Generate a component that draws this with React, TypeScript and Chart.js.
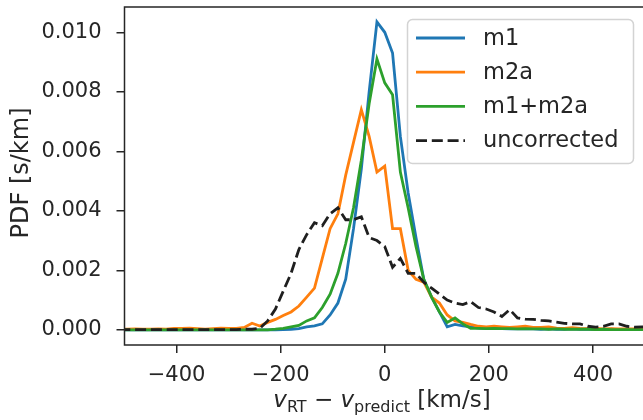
import React, { useEffect, useRef } from "react";
import { Chart, registerables } from "chart.js";

Chart.register(...registerables);

// bin centres [km/s]
const velocities = [
  -510, -495, -480, -465, -450, -435, -420, -405, -390, -375,
  -360, -345, -330, -315, -300, -285, -270, -255, -240, -225,
  -210, -195, -180, -165, -150, -135, -120, -105, -90, -75,
  -60, -45, -30, -15, 0, 15, 30, 45, 60, 75,
  90, 105, 120, 135, 150, 165, 180, 195, 210, 225,
  240, 255, 270, 285, 300, 315, 330, 345, 360, 375,
  390, 405, 420, 435, 450, 465, 480, 495, 510,
];

const m1 = [
  0, 0, 0, 0, 0, 0, 0, 0, 0, 0,
  0, 0, 0, 0, 0, 0, 0, 0, 0, 0,
  0,
  0.00001, 0.00002, 0.00004, 0.0001, 0.00013, 0.0002, 0.0005, 0.0009, 0.0017, 0.0034,
  0.0054, 0.008, 0.01035, 0.01, 0.0093, 0.0065, 0.0046, 0.0031, 0.0017, 0.0011,
  0.0006, 0.0001, 0.00018, 0.00013, 0.0001, 0.00006, 0.00005, 0.00004, 0.00004, 0.00003,
  0.00004, 0.00003, 0.00003, 0.00002, 0.00003, 0.00002, 0.00002, 0.00003, 0.00002, 0.00002,
  0.00002, 0.00001, 0.00002, 0.00001, 0.00001, 0.00001, 0.00001, 0.00001,
];

const m2a = [
  0.00002, 0.00002, 0.00003, 0.00002, 0.00002, 0.00003, 0.00002, 0.00005, 0.00005, 0.00006,
  0.00004, 0.00002, 0.00004, 0.00006, 0.00005, 0.00005, 0.00008, 0.00022, 0.00013, 0.00025,
  0.00035, 0.00048, 0.0006, 0.0008, 0.0011, 0.0014, 0.0024, 0.0034, 0.0039, 0.0052,
  0.0063, 0.0074, 0.0065, 0.0053, 0.0055, 0.0034, 0.0034, 0.002, 0.0017, 0.0016,
  0.0011, 0.0009, 0.0005, 0.0003, 0.00025, 0.00018, 0.00012, 0.0001, 0.00012, 0.0001,
  0.00008, 0.0001, 0.00012, 0.00008, 0.00008, 0.0001, 0.00006, 0.00005, 0.00007, 0.00005,
  0.00004, 0.00005, 0.00003, 0.00004, 0.00003, 0.00003, 0.00003, 0.00002, 0.00002,
];

const m1m2a = [
  0, 0, 0, 0, 0, 0, 0, 0, 0, 0,
  0, 0, 0, 0, 0, 0, 0, 0, 0, 0,
  0.00002, 0.00005, 0.0001, 0.00015, 0.0003, 0.0004, 0.00075, 0.0012, 0.0019, 0.0029,
  0.0041, 0.0057, 0.0076, 0.0091, 0.0083, 0.0079, 0.0053, 0.0041, 0.0028, 0.0017,
  0.0011, 0.0006, 0.00025, 0.0004, 0.0002, 0.00005, 0.00005, 0.00004, 0.00005, 0.00004,
  0.00004, 0.00003, 0.00004, 0.00003, 0.00003, 0.00002, 0.00003, 0.00002, 0.00002, 0.00002,
  0.00002, 0.00001, 0.00002, 0.00001, 0.00001, 0.00001, 0.00001, 0.00001, 0.00001,
];

const uncorrected = [
  0.00001, 0.00001, 0.00001, 0.00001, 0.00001, 0.00001, 0.00001, 0.00001, 0.00001, 0.00001,
  0.00001, 0.00001, 0.00001, 0.00001, 0.00001, 0.00001, 0.00002, 0.00002, 0.00005, 0.0003,
  0.0007, 0.0013, 0.0019, 0.0027, 0.0032, 0.0036, 0.0035, 0.0039, 0.0041, 0.0037,
  0.0037, 0.0038, 0.0031, 0.003, 0.0028, 0.0021, 0.0024, 0.0019, 0.0019, 0.0016,
  0.0014, 0.0012, 0.001, 0.0009, 0.00085, 0.00095, 0.00075, 0.0007, 0.0006, 0.00045,
  0.00068, 0.0004, 0.00036, 0.00035, 0.00032, 0.0003, 0.00026, 0.00022, 0.0002, 0.0002,
  0.00012, 0.00009, 0.00012, 0.0002, 0.0002, 0.00012, 0.00009, 0.0001, 0.0001,
];

const seriesLabels = ["m1", "m2a", "m1+m2a", "uncorrected"];
const seriesColors = ["#1f77b4", "#ff7f0e", "#2ca02c", "#1f1f1f"];
const xTicks = [-400, -200, 0, 200, 400];
const yTicks = [0, 0.002, 0.004, 0.006, 0.008, 0.01];

const FONT = "'DejaVu Sans', 'Liberation Sans', sans-serif";
const TEXT = "#262626";
const DASH = [11, 4.8];

const framePlugin = {
  id: "frameAndText",
  afterDatasetsDraw(chart: any) {
    const ctx = chart.ctx as CanvasRenderingContext2D;
    const a = chart.chartArea;
    ctx.save();
    // legend
    const lx = 407.5, ly = 19.5, lw = 226, lh = 144;
    ctx.beginPath();
    (ctx as any).roundRect(lx, ly, lw, lh, 5);
    ctx.fillStyle = "rgba(255,255,255,0.85)";
    ctx.fill();
    ctx.strokeStyle = "#d3d3d3";
    ctx.lineWidth = 1.5;
    ctx.stroke();
    const rowTop = 38;
    const rowGap = 34.2;
    chart.data.datasets.forEach((ds: any, i: number) => {
      const y = rowTop + i * rowGap;
      ctx.beginPath();
      ctx.strokeStyle = ds.borderColor;
      ctx.lineWidth = 2.8;
      ctx.setLineDash(ds.borderDash || []);
      ctx.moveTo(416, y);
      ctx.lineTo(465, y);
      ctx.stroke();
      ctx.setLineDash([]);
      ctx.fillStyle = TEXT;
      ctx.font = `22.5px ${FONT}`;
      ctx.textAlign = "left";
      ctx.textBaseline = "middle";
      ctx.fillText(ds.label, 483, y + 1);
    });
    // frame
    ctx.strokeStyle = TEXT;
    ctx.lineWidth = 1.5;
    ctx.strokeRect(a.left, a.top, a.right - a.left, a.bottom - a.top);

    // y title
    ctx.save();
    ctx.translate(22, 173);
    ctx.rotate(-Math.PI / 2);
    ctx.fillStyle = TEXT;
    ctx.font = `24px ${FONT}`;
    ctx.textAlign = "center";
    ctx.textBaseline = "middle";
    ctx.fillText("PDF [s/km]", 0, 0);
    ctx.restore();

    // x title with math-like subscripts
    const parts = [
      { t: "v", f: `italic 23px ${FONT}`, dy: 0 },
      { t: "RT", f: `16px ${FONT}`, dy: 4.5 },
      { t: " \u2212 ", f: `23px ${FONT}`, dy: 0 },
      { t: "v", f: `italic 23px ${FONT}`, dy: 0 },
      { t: "predict", f: `16px ${FONT}`, dy: 4.5 },
      { t: " [km/s]", f: `23px ${FONT}`, dy: 0 },
    ];
    let total = 0;
    const widths = parts.map((p) => {
      ctx.font = p.f;
      const w = ctx.measureText(p.t).width;
      total += w;
      return w;
    });
    let x = 382 - total / 2;
    const base = 407;
    ctx.textAlign = "left";
    ctx.textBaseline = "alphabetic";
    ctx.fillStyle = TEXT;
    parts.forEach((p, i) => {
      ctx.font = p.f;
      ctx.fillText(p.t, x, base + p.dy);
      x += widths[i];
    });
    ctx.restore();
  },
};

export default function App() {
  const ref = useRef<HTMLCanvasElement>(null);
  useEffect(() => {
    if (!ref.current) return;
    const series = [m1, m2a, m1m2a, uncorrected];
    const chart = new Chart(ref.current, {
      type: "line",
      data: {
        datasets: series.map((s, i) => ({
          label: seriesLabels[i],
          data: velocities.map((v, j) => ({ x: v, y: s[j] })),
          borderColor: seriesColors[i],
          backgroundColor: seriesColors[i],
          borderWidth: 2.8,
          borderDash: i === 3 ? DASH : [],
          pointRadius: 0,
          tension: 0,
          fill: false,
          order: 4 - i,
        })),
      },
      options: {
        animation: false,
        responsive: false,
        events: [],
        layout: { padding: { top: 7, right: 15, left: 0, bottom: 0 } },
        plugins: { legend: { display: false }, tooltip: { enabled: false } },
        scales: {
          x: {
            type: "linear",
            min: -500,
            max: 500,
            afterFit: (s: any) => {
              s.height = 75;
              s.paddingLeft = 0;
              s.paddingRight = 0;
            },
            afterBuildTicks: (s: any) => {
              s.ticks = xTicks.map((v) => ({ value: v }));
            },
            grid: {
              drawOnChartArea: false,
              drawTicks: true,
              tickLength: 8,
              color: TEXT,
              lineWidth: 1.5,
            },
            border: { display: false },
            ticks: {
              color: TEXT,
              font: { family: FONT, size: 21 },
              padding: 10,
              maxRotation: 0,
              callback: (v: any) => String(v).replace("-", "\u2212"),
            },
          },
          y: {
            type: "linear",
            min: -0.00051,
            max: 0.01085,
            afterFit: (s: any) => {
              s.width = 124.5;
              s.paddingTop = 0;
              s.paddingBottom = 0;
            },
            afterBuildTicks: (s: any) => {
              s.ticks = yTicks.map((v) => ({ value: v }));
            },
            grid: {
              drawOnChartArea: false,
              drawTicks: true,
              tickLength: 8,
              color: TEXT,
              lineWidth: 1.5,
            },
            border: { display: false },
            ticks: {
              color: TEXT,
              font: { family: FONT, size: 21 },
              padding: 15,
              callback: (v: any) => Number(v).toFixed(3),
            },
          },
        },
      },
      plugins: [framePlugin],
    });
    return () => chart.destroy();
  }, []);
  return (
    <div
      style={{
        position: "fixed",
        left: 0,
        top: 0,
        width: 643,
        height: 420,
        overflow: "hidden",
        background: "#fff",
      }}
    >
      <canvas ref={ref} width={660} height={420} style={{ width: 660, height: 420, display: "block" }} />
    </div>
  );
}
